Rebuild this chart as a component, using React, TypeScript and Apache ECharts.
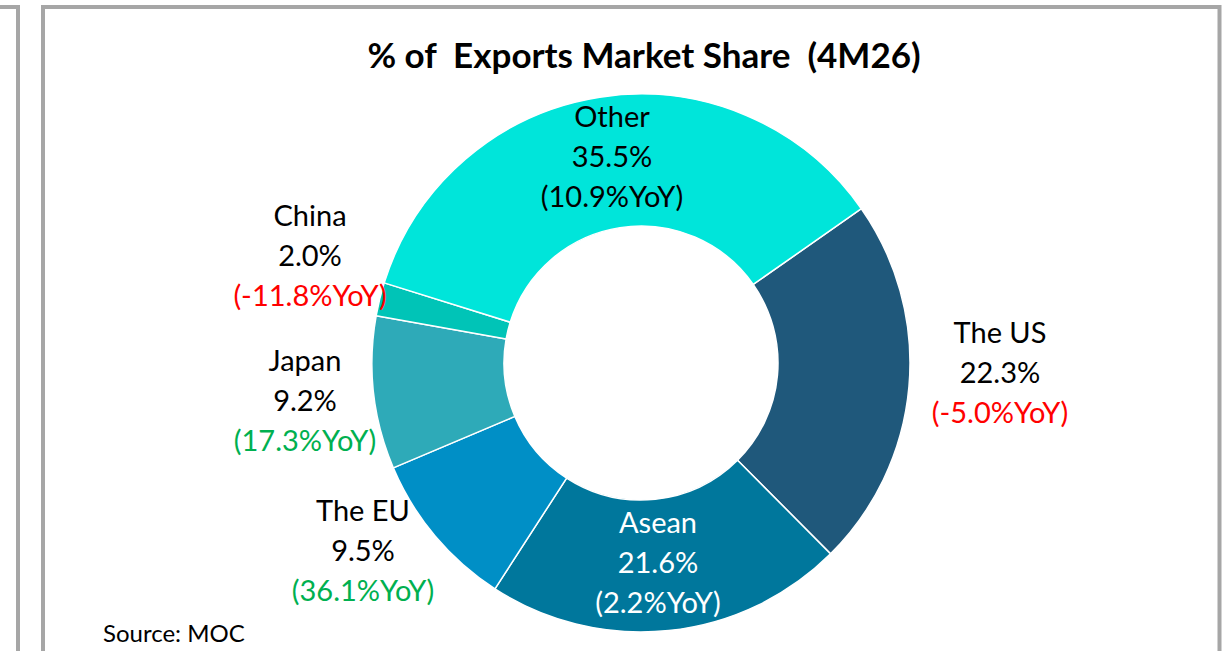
import React, { useEffect, useRef } from "react";
import * as echarts from "echarts";

const titleText = "% of  Exports Market Share  (4M26)";
const sourceText = "Source: MOC";
const categories = ["The US", "Asean", "The EU", "Japan", "China", "Other"];
const shares = [22.3, 21.6, 9.5, 9.2, 2.0, 35.5];
const yoy = [-5.0, 2.2, 36.1, 17.3, -11.8, 10.9];

// styles / layout (not data)
const sliceColors = ["#1F587B", "#00779C", "#008FC6", "#2EAAB8", "#00C4B7", "#00E5DA"];
const mainTextColors = ["#000", "#fff", "#000", "#000", "#000", "#000"];
const yoyTextColors = ["#FF0000", "#fff", "#00B050", "#00B050", "#FF0000", "#000"];
const labelPos: [number, number][] = [
  [1000, 371],
  [658, 561],
  [363, 549],
  [305, 399],
  [310, 254],
  [612, 155],
];

export default function App() {
  const ref = useRef<HTMLDivElement>(null);
  useEffect(() => {
    if (!ref.current) return;
    const chart = echarts.init(ref.current, undefined, { renderer: "svg" });
    const fontFamily = "Lato, 'Open Sans', sans-serif";
    chart.setOption({
      animation: false,
      backgroundColor: "#fff",
      title: {
        text: titleText,
        left: 639,
        top: 49,
        textAlign: "center",
        textVerticalAlign: "middle",
        textStyle: { fontFamily, fontWeight: "bold", fontSize: 35, color: "#000" },
      },
      graphic: [
        {
          type: "rect",
          shape: { x: -100, y: 7, width: 118, height: 800 },
          style: { fill: "none", stroke: "#A6A6A6", lineWidth: 4 },
          silent: true,
        },
        {
          type: "rect",
          shape: { x: 43, y: 7, width: 1176.5, height: 800 },
          style: { fill: "none", stroke: "#A6A6A6", lineWidth: 4 },
          silent: true,
        },
        {
          type: "text",
          x: 103,
          y: 632,
          style: {
            text: sourceText,
            fontFamily,
            fontSize: 24,
            fill: "#000",
            verticalAlign: "middle",
            align: "left",
          },
        },
      ],
      series: [
        {
          type: "pie",
          center: [641, 363],
          radius: [137, 269],
          startAngle: 35,
          clockwise: true,
          avoidLabelOverlap: false,
          itemStyle: { borderColor: "#fff", borderWidth: 1.5 },
          labelLine: { show: false },
          label: {
            show: true,
            position: "inside",
            fontFamily,
            lineHeight: 40,
            formatter: (p: any) => {
              const i = p.dataIndex;
              const v = yoy[i];
              return `{m${i}|${categories[i]}}\n{m${i}|${shares[i].toFixed(1)}%}\n{y${i}|(${v.toFixed(1)}%YoY)}`;
            },
            rich: Object.fromEntries(
              categories.flatMap((_, i) => [
                [`m${i}`, { fontFamily, fontSize: 29, lineHeight: 40, color: mainTextColors[i] }],
                [`y${i}`, { fontFamily, fontSize: 29, lineHeight: 40, color: yoyTextColors[i] }],
              ])
            ),
          },
          labelLayout: (params: any) => {
            const [x, y] = labelPos[params.dataIndex];
            return { x, y, align: "center", verticalAlign: "middle" };
          },
          data: categories.map((name, i) => ({
            name,
            value: shares[i],
            itemStyle: { color: sliceColors[i] },
          })),
        },
      ],
    });
    return () => chart.dispose();
  }, []);
  return (
    <div
      ref={ref}
      style={{ position: "fixed", left: 0, top: 0, width: 1225, height: 651 }}
    />
  );
}
